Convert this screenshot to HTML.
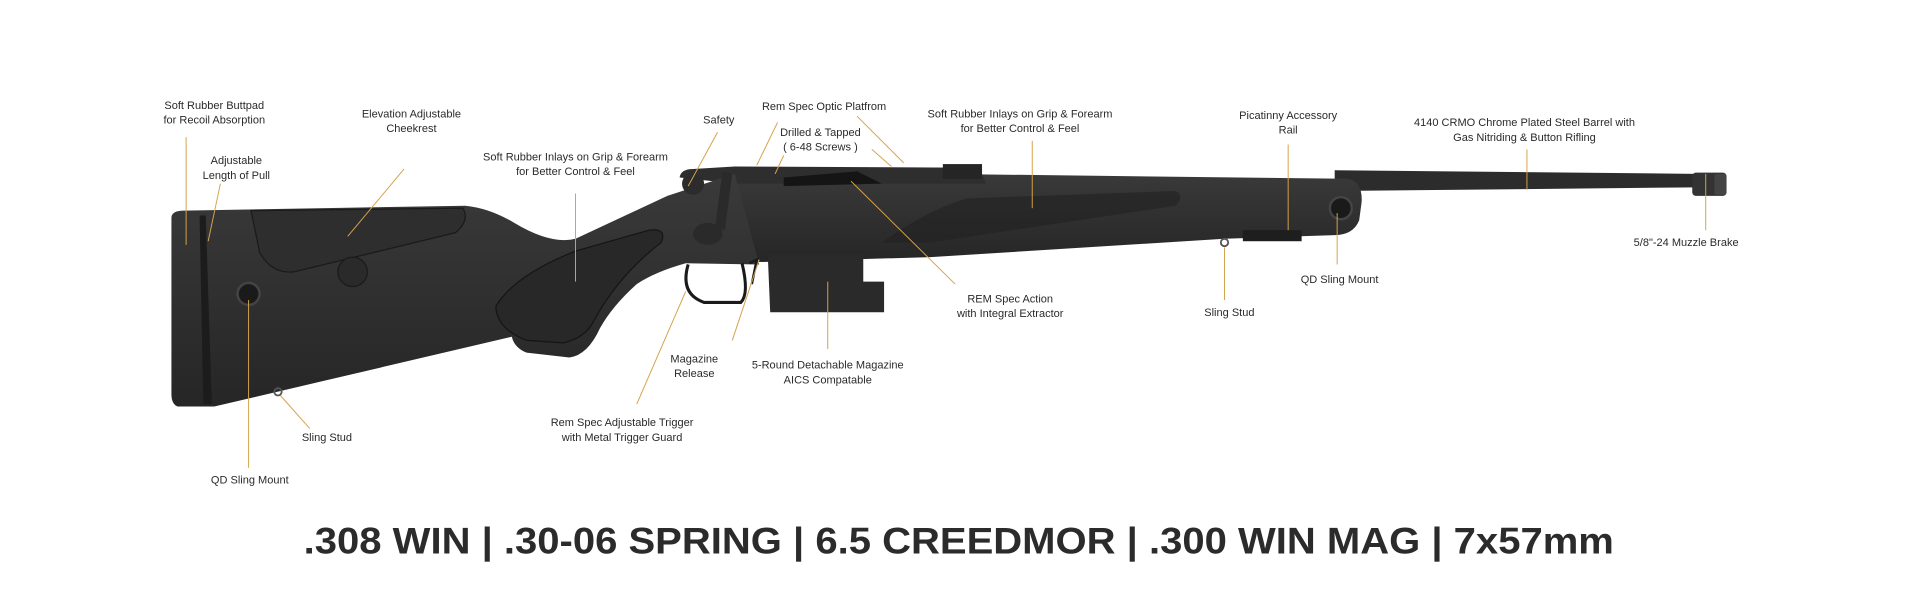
<!DOCTYPE html>
<html><head><meta charset="utf-8"><style>
html,body{margin:0;padding:0;background:#fff;width:1920px;height:600px;overflow:hidden}
svg{display:block}
.l{font-family:"Liberation Sans Narrow","Liberation Sans",sans-serif;font-size:9px;fill:#2a2a2a;text-anchor:middle}
.t{font-family:"Liberation Sans",sans-serif;font-weight:bold;font-size:30px;fill:#2b2b2b;text-anchor:middle}
.ld{stroke:#d6a24a;stroke-width:0.8;fill:none}
</style></head><body>
<svg width="1920" height="600" viewBox="0 0 1568 490" xmlns="http://www.w3.org/2000/svg">
<defs>
<linearGradient id="g" x1="0" y1="0" x2="0" y2="1"><stop offset="0" stop-color="#3a3a3a"/><stop offset="1" stop-color="#262626"/></linearGradient>
</defs>
<!-- barrel -->
<path d="M1090 139 L1385 142 L1385 153 L1090 156 Z" fill="#2c2c2c"/>
<rect x="1382" y="141" width="28" height="19" rx="3" fill="#333"/>
<rect x="1400" y="142" width="10" height="17" rx="2" fill="#444"/>
<!-- forend -->
<path d="M600 140 L1100 146 Q1113 148 1112 165 L1110 180 Q1105 192 1090 192 L1000 195 L760 210 L620 214 L600 180 Z" fill="url(#g)"/>
<path d="M720 198 Q760 170 790 162 L960 156 Q968 160 960 168 L760 198 Z" fill="#222" opacity="0.6"/>
<!-- rail -->
<rect x="1015" y="188" width="48" height="9" fill="#1e1e1e"/>
<circle cx="1095" cy="170" r="9" fill="#1a1a1a" stroke="#444" stroke-width="2"/>
<circle cx="1000" cy="198" r="3" fill="none" stroke="#555" stroke-width="1.5"/>
<!-- action -->
<path d="M555 145 Q556 138 566 138 L600 136 L800 137 L805 150 L600 150 Z" fill="#2e2e2e"/>
<rect x="770" y="134" width="32" height="12" fill="#252525"/>
<path d="M640 145 L700 140 L720 150 L640 152 Z" fill="#151515"/>
<!-- stock -->
<path d="M140 178 Q140 172 150 172 L380 168 Q400 170 420 182 Q450 200 470 195 L545 160 L600 142 L620 216 L560 215 Q535 222 520 232 Q500 250 490 268 Q480 290 465 292 L430 288 Q420 284 418 275 L175 332 L145 332 Q140 330 140 322 Z" fill="url(#g)"/>
<path d="M205 172 L378 170 Q384 180 372 190 L240 222 Q222 224 212 206 Z" fill="#2e2e2e" stroke="#1a1a1a" stroke-width="1"/>
<circle cx="288" cy="222" r="12" fill="#2a2a2a" stroke="#1a1a1a" stroke-width="1"/>
<path d="M405 250 Q420 225 470 205 L530 188 Q545 186 540 198 Q505 225 485 262 Q478 276 460 280 L430 278 Q405 268 405 250 Z" fill="#282828" stroke="#151515" stroke-width="1"/>
<path d="M163 176 L168 176 L173 330 L166 330 Z" fill="#1c1c1c"/>
<circle cx="203" cy="240" r="9" fill="#1a1a1a" stroke="#444" stroke-width="2"/>
<circle cx="227" cy="320" r="3" fill="none" stroke="#555" stroke-width="1.5"/>
<!-- bolt handle -->
<path d="M590 140 L598 142 L592 188 L584 186 Z" fill="#2a2a2a"/>
<ellipse cx="578" cy="191" rx="12" ry="9" fill="#2a2a2a"/>
<circle cx="566" cy="150" r="9" fill="#2c2c2c"/>
<!-- trigger guard -->
<path d="M562 216 Q555 240 575 247 L605 247 Q612 240 606 215" fill="none" stroke="#1a1a1a" stroke-width="2.5"/>
<path d="M612 215 L618 212 L614 232" fill="none" stroke="#1a1a1a" stroke-width="2"/>
<!-- magazine -->
<path d="M627 208 L705 208 L705 230 L722 230 L722 255 L629 255 Z" fill="#2a2a2a"/>
<g class="ld">
<line x1="152" y1="112" x2="152" y2="200"/>
<line x1="180" y1="150" x2="170" y2="197"/>
<line x1="330" y1="138" x2="284" y2="193"/>
<line x1="470" y1="158" x2="470" y2="230"/>
<line x1="586" y1="108" x2="562" y2="152"/>
<line x1="635" y1="100" x2="618" y2="135"/>
<line x1="700" y1="95" x2="738" y2="133"/>
<line x1="640" y1="127" x2="633" y2="142"/>
<line x1="712" y1="122" x2="728" y2="136"/>
<line x1="780" y1="232" x2="695" y2="148"/>
<line x1="843" y1="115" x2="843" y2="170"/>
<line x1="1052" y1="118" x2="1052" y2="188"/>
<line x1="1247" y1="122" x2="1247" y2="155"/>
<line x1="1393" y1="142" x2="1393" y2="188"/>
<line x1="1092" y1="174" x2="1092" y2="216"/>
<line x1="1000" y1="202" x2="1000" y2="245"/>
<line x1="676" y1="230" x2="676" y2="285"/>
<line x1="598" y1="278" x2="620" y2="212"/>
<line x1="520" y1="330" x2="560" y2="238"/>
<line x1="253" y1="350" x2="229" y2="323"/>
<line x1="203" y1="245" x2="203" y2="382"/>
</g>
<g class="l">
<text x="175" y="89">Soft Rubber Buttpad</text><text x="175" y="101">for Recoil Absorption</text>
<text x="193" y="134">Adjustable</text><text x="193" y="146">Length of Pull</text>
<text x="336" y="96">Elevation Adjustable</text><text x="336" y="108">Cheekrest</text>
<text x="470" y="131">Soft Rubber Inlays on Grip &amp; Forearm</text><text x="470" y="143">for Better Control &amp; Feel</text>
<text x="587" y="101">Safety</text>
<text x="673" y="90">Rem Spec Optic Platfrom</text>
<text x="670" y="111">Drilled &amp; Tapped</text><text x="670" y="123">( 6-48 Screws )</text>
<text x="825" y="247">REM Spec Action</text><text x="825" y="259">with Integral Extractor</text>
<text x="833" y="96">Soft Rubber Inlays on Grip &amp; Forearm</text><text x="833" y="108">for Better Control &amp; Feel</text>
<text x="1052" y="97">Picatinny Accessory</text><text x="1052" y="109">Rail</text>
<text x="1245" y="103">4140 CRMO Chrome Plated Steel Barrel with</text><text x="1245" y="115">Gas Nitriding &amp; Button Rifling</text>
<text x="1377" y="201">5/8"-24 Muzzle Brake</text>
<text x="1094" y="231">QD Sling Mount</text>
<text x="1004" y="258">Sling Stud</text>
<text x="676" y="301">5-Round Detachable Magazine</text><text x="676" y="313">AICS Compatable</text>
<text x="567" y="296">Magazine</text><text x="567" y="308">Release</text>
<text x="508" y="348">Rem Spec Adjustable Trigger</text><text x="508" y="360">with Metal Trigger Guard</text>
<text x="267" y="360">Sling Stud</text>
<text x="204" y="395">QD Sling Mount</text>
</g>
<text class="t" x="783" y="452" textLength="1070" lengthAdjust="spacingAndGlyphs">.308 WIN | .30-06 SPRING | 6.5 CREEDMOR | .300 WIN MAG | 7x57mm</text>
</svg>
</body></html>
